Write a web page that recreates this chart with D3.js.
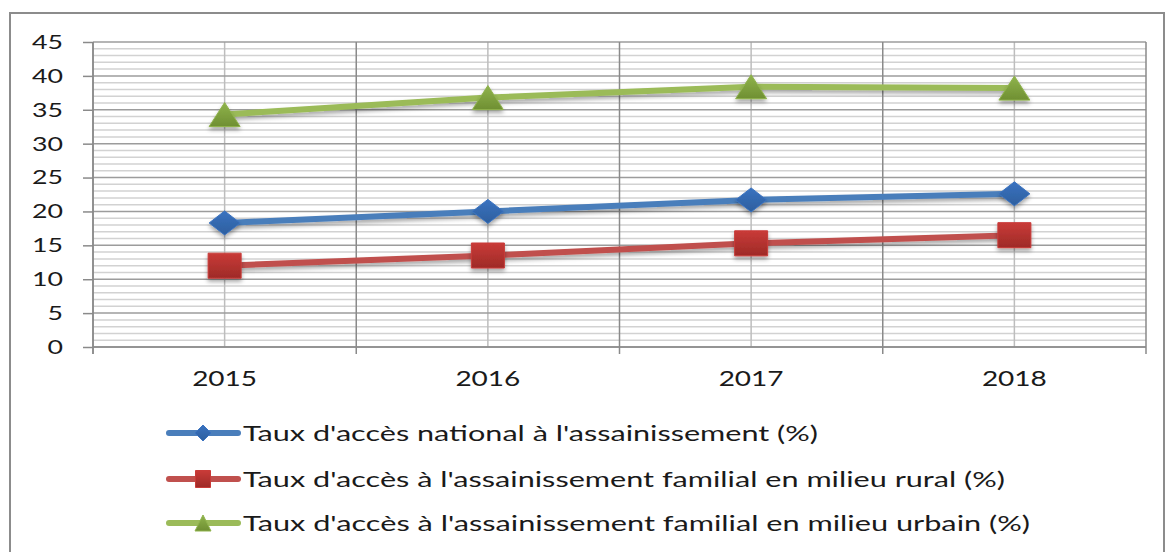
<!DOCTYPE html>
<html>
<head>
<meta charset="utf-8">
<script src="https://cdn.jsdelivr.net/npm/d3@7"></script>
<style>
html,body{margin:0;padding:0;background:#fff;}
svg{display:block;font-family:Lato,"Open Sans",sans-serif;}
</style>
</head>
<body>
<svg id="chart" width="1168" height="552"></svg>
<script>
const years = ["2015", "2016", "2017", "2018"];
const nationalValues = [18.3, 20.0, 21.7, 22.6];
const ruralValues = [12.0, 13.5, 15.3, 16.5];
const urbanValues = [34.3, 36.8, 38.4, 38.2];
const yTicks = [0, 5, 10, 15, 20, 25, 30, 35, 40, 45];
const seriesNames = [
  "Taux d'accès national à l'assainissement (%)",
  "Taux d'accès à l'assainissement familial en milieu rural (%)",
  "Taux d'accès à l'assainissement familial en milieu urbain (%)"
];

(function () {
const series = [
  {name: seriesNames[0], values: nationalValues, line: "#4a7ebb", fill: "#3a72c0", dark: "#2d5f9e", shape: "diamond", textW: 575},
  {name: seriesNames[1], values: ruralValues, line: "#c0504d", fill: "#c93b38", dark: "#9e2a27", shape: "square", textW: 762},
  {name: seriesNames[2], values: urbanValues, line: "#9bbb59", fill: "#8fb34c", dark: "#6f8f32", shape: "triangle", textW: 787}
];

const svg = d3.select("#chart");
const pLeft = 93, pRight = 1146, pTop = 42, pBottom = 347;

const defs = svg.append("defs");
const f = defs.append("filter").attr("id", "sh").attr("x", "-50%").attr("y", "-50%").attr("width", "200%").attr("height", "200%");
f.append("feDropShadow").attr("dx", 0).attr("dy", 3).attr("stdDeviation", 2).attr("flood-color", "#000").attr("flood-opacity", 0.35);
series.forEach((s, i) => {
  const g = defs.append("linearGradient").attr("id", "gr" + i).attr("x1", 0).attr("y1", 0).attr("x2", 0).attr("y2", 1);
  g.append("stop").attr("offset", "0%").attr("stop-color", s.fill);
  g.append("stop").attr("offset", "100%").attr("stop-color", s.dark);
});

// outer frame
svg.append("rect").attr("x", 10).attr("y", 13).attr("width", 1154).attr("height", 600)
  .attr("fill", "none").attr("stroke", "#8c8c8c").attr("stroke-width", 2);

const x = d3.scaleBand().domain(years).range([pLeft, pRight]).padding(0);
const y = d3.scaleLinear().domain([0, 45]).range([pBottom, pTop]);
const cx = d => x(d) + x.bandwidth() / 2;

// minor horizontal grid
const minor = d3.range(0, 46).filter(v => v % 5 !== 0);
svg.append("g").selectAll("line").data(minor).join("line")
  .attr("x1", pLeft).attr("x2", pRight).attr("y1", d => y(d)).attr("y2", d => y(d))
  .attr("stroke", "#d2d2d2").attr("stroke-width", 1.5);
// vertical grid at category centers
svg.append("g").selectAll("line").data(years).join("line")
  .attr("x1", d => cx(d)).attr("x2", d => cx(d)).attr("y1", pTop).attr("y2", pBottom)
  .attr("stroke", "#bdbdbd").attr("stroke-width", 1.5);
// major horizontal grid
svg.append("g").selectAll("line").data(yTicks).join("line")
  .attr("x1", pLeft).attr("x2", pRight).attr("y1", d => y(d)).attr("y2", d => y(d))
  .attr("stroke", "#9c9c9c").attr("stroke-width", 1.5);
// vertical boundaries with ticks
const bounds = years.map(d => x(d)).concat([pRight]);
svg.append("g").selectAll("line").data(bounds).join("line")
  .attr("x1", d => d).attr("x2", d => d).attr("y1", pTop).attr("y2", pBottom + 7)
  .attr("stroke", "#8a8a8a").attr("stroke-width", 1.5);

// y axis
const yAxis = svg.append("g").attr("transform", `translate(${pLeft},0)`)
  .call(d3.axisLeft(y).tickValues(yTicks).tickSize(10).tickPadding(20));
yAxis.select(".domain").attr("stroke", "#8a8a8a").attr("stroke-width", 1.5)
  .attr("d", `M0,${pTop}V${pBottom + 7}`);
yAxis.selectAll(".tick line").attr("stroke", "#8a8a8a").attr("stroke-width", 1.5);
yAxis.selectAll(".tick text").attr("font-size", 20).attr("fill", "#1a1a1a")
  .attr("font-family", "Lato, sans-serif")
  .attr("textLength", d => String(d).length * 15.5).attr("lengthAdjust", "spacingAndGlyphs");

// x axis
const xAxis = svg.append("g").attr("transform", `translate(0,${pBottom})`)
  .call(d3.axisBottom(x).tickSize(0).tickPadding(24));
xAxis.select(".domain").attr("stroke", "#8a8a8a").attr("stroke-width", 1.5).attr("d", `M${pLeft},0H${pRight}`);
xAxis.selectAll(".tick text").attr("font-size", 21).attr("fill", "#1a1a1a")
  .attr("font-family", "Lato, sans-serif")
  .attr("textLength", 65).attr("lengthAdjust", "spacingAndGlyphs");

function markerPath(shape, w, h) {
  const a = w / 2, b = h / 2;
  if (shape === "diamond") return `M0,${-b}L${a},0L0,${b}L${-a},0Z`;
  if (shape === "square") return `M${-a},${-b}H${a}V${b}H${-a}Z`;
  return `M0,${-b}L${a},${b}L${-a},${b}Z`;
}

const line = d3.line().x(d => cx(d.year)).y(d => y(d.v));
series.forEach((s, i) => {
  const pts = years.map((yr, j) => ({year: yr, v: s.values[j]}));
  svg.append("path").datum(pts).attr("d", line).attr("fill", "none")
    .attr("stroke", s.line).attr("stroke-width", 6).attr("stroke-linejoin", "round")
    .attr("filter", "url(#sh)");
  svg.append("g").selectAll("path").data(pts).join("path")
    .attr("transform", d => `translate(${cx(d.year)},${y(d.v)})`)
    .attr("d", markerPath(s.shape, s.shape === "square" ? 33 : 31, s.shape === "square" ? 25 : 24))
    .attr("fill", `url(#gr${i})`).attr("stroke", s.fill).attr("stroke-width", 1)
    .attr("filter", "url(#sh)");
});

// legend
const legY = [433, 479, 523];
series.forEach((s, i) => {
  const g = svg.append("g").attr("transform", `translate(0,${legY[i]})`);
  g.append("line").attr("x1", 169).attr("x2", 238).attr("y1", 0).attr("y2", 0)
    .attr("stroke", s.line).attr("stroke-width", 6).attr("stroke-linecap", "round");
  g.append("path").attr("transform", "translate(203,0)")
    .attr("d", markerPath(s.shape, s.shape === "square" ? 15 : 16, s.shape === "square" ? 17 : 16))
    .attr("fill", `url(#gr${i})`).attr("stroke", s.fill).attr("stroke-width", 1);
  g.append("text").attr("x", 243).attr("y", 8).attr("font-size", 22).attr("fill", "#1a1a1a")
    .attr("font-family", "Lato, sans-serif")
    .attr("textLength", s.textW).attr("lengthAdjust", "spacingAndGlyphs")
    .text(s.name);
});
})();
</script>
</body>
</html>
